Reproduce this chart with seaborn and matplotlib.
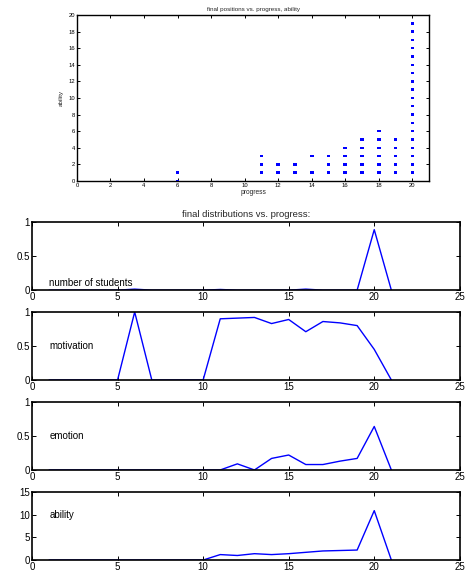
import matplotlib
matplotlib.use("Agg")
import matplotlib.pyplot as plt
import seaborn as sns
import pandas as pd

# Final positions: progress vs. ability of each student
pos_progress = [6, 6,
                11, 11, 11,
                12, 12,
                13, 13,
                14, 14,
                15, 15, 15,
                16, 16, 16, 16,
                17, 17, 17, 17, 17,
                18, 18, 18, 18, 18, 18,
                19, 19, 19, 19, 19] + [20] * 20
pos_ability = [0, 1,
               1, 2, 3,
               1, 2,
               1, 2,
               1, 3,
               1, 2, 3,
               1, 2, 3, 4,
               1, 2, 3, 4, 5,
               1, 2, 3, 4, 5, 6,
               1, 2, 3, 4, 5] + list(range(1, 21))

# Distributions over progress levels
progress = list(range(1, 22))
n_students = [0, 0, 0, 0, 0, 0.015, 0, 0, 0, 0, 0.01, 0, 0, 0, 0, 0.015, 0, 0, 0, 0.89, 0]
motivation = [0, 0, 0, 0, 0, 1.0, 0, 0, 0, 0, 0.90, 0.91, 0.92, 0.83, 0.89, 0.71, 0.86, 0.84, 0.80, 0.45, 0]
emotion = [0, 0, 0, 0, 0, 0, 0, 0, 0, 0, 0, 0.09, 0, 0.17, 0.22, 0.08, 0.08, 0.13, 0.17, 0.64, 0]
ability = [0, 0, 0, 0, 0, 0, 0, 0, 0, 0, 1.2, 1.0, 1.4, 1.2, 1.4, 1.7, 2.0, 2.1, 2.2, 10.9, 0]

panel_labels = ["number of students", "motivation", "emotion", "ability"]
panel_series = [n_students, motivation, emotion, ability]
panel_ylim = [(0, 1), (0, 1), (0, 1), (0, 15)]
panel_yticks = [[0, 0.5, 1], [0, 0.5, 1], [0, 0.5, 1], [0, 5, 10, 15]]
panel_text_y = [0.03, 0.5, 0.5, 10]

sns.set_theme(style="white")
plt.rcParams["font.family"] = ["Liberation Sans", "DejaVu Sans"]
plt.rcParams["xtick.direction"] = "in"
plt.rcParams["ytick.direction"] = "in"

fig = plt.figure(figsize=(4.66, 5.78), dpi=100)


def style_axes(ax, fs, lw=1.0, ticklen=2.5):
    for s in ax.spines.values():
        s.set_color("black")
        s.set_linewidth(lw)
    ax.tick_params(axis="both", which="both", direction="in", top=True, right=True,
                   bottom=True, left=True, length=ticklen, width=0.7,
                   colors="black", labelsize=fs, pad=1.5)


# Scatter of final positions (small flat dash markers)
dash = [(-1.5, -1.0), (1.5, -1.0), (1.5, 1.0), (-1.5, 1.0), (-1.5, -1.0)]
ax0 = fig.add_axes([0.165, 0.687, 0.756, 0.287])
df_pos = pd.DataFrame({"progress": pos_progress, "ability": pos_ability})
sns.scatterplot(data=df_pos, x="progress", y="ability", ax=ax0, marker=dash,
                s=7, color="#0000ff", edgecolor="none", linewidth=0)
ax0.set_xlim(0, 21)
ax0.set_ylim(0, 20)
ax0.set_xticks(range(0, 21, 2))
ax0.set_yticks(range(0, 21, 2))
style_axes(ax0, 4.2, lw=1.0, ticklen=2)
ax0.set_xlabel("progress", fontsize=4.8, labelpad=1)
ax0.set_ylabel("ability", fontsize=4.5, labelpad=3)
ax0.set_title("final positions vs. progress, ability", fontsize=4.5, pad=3)

# Distribution panels
bottoms = [0.498, 0.3426, 0.1869, 0.0311]
for i, (lab, vals) in enumerate(zip(panel_labels, panel_series)):
    ax = fig.add_axes([0.0687, bottoms[i], 0.918, 0.1176])
    df = pd.DataFrame({"progress": progress, "value": vals})
    sns.lineplot(data=df, x="progress", y="value", ax=ax, color="#0000ff", linewidth=1.0)
    ax.set_xlim(0, 25)
    ax.set_ylim(*panel_ylim[i])
    ax.set_xticks([0, 5, 10, 15, 20, 25])
    ax.set_yticks(panel_yticks[i])
    ax.set_yticklabels([f"{t:g}" for t in panel_yticks[i]])
    ax.set_xlabel("")
    ax.set_ylabel("")
    style_axes(ax, 7, lw=1.2, ticklen=3)
    ax.text(1, panel_text_y[i], lab, fontsize=7, va="bottom" if i == 0 else "center",
            ha="left", color="black")
    if i == 0:
        ax.set_title("final distributions vs. progress:", fontsize=6.8, pad=4)

fig.savefig("out.png", dpi=100)
